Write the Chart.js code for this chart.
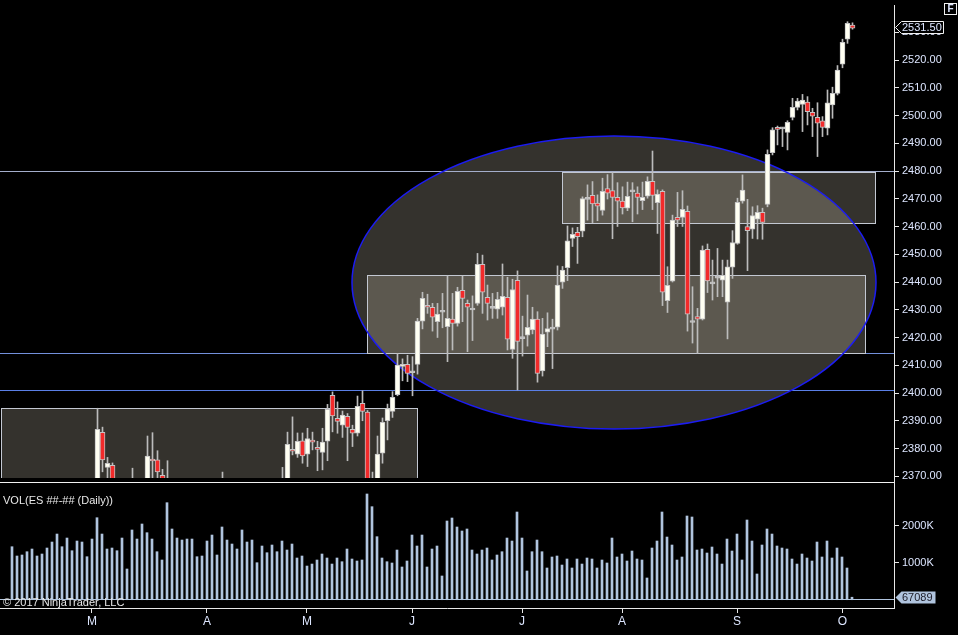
<!DOCTYPE html>
<html>
<head>
<meta charset="utf-8">
<script src="https://cdn.jsdelivr.net/npm/chart.js@4.4.1/dist/chart.umd.min.js"></script>
<style>
  html, body { margin: 0; padding: 0; background: #000; overflow: hidden; }
  #wrap { position: relative; width: 958px; height: 635px; }
  canvas { position: absolute; left: 0; }
  #priceChart { top: 0; }
  #volChart { top: 482px; }
</style>
</head>
<body>
<div id="wrap">
  <canvas id="priceChart" width="958" height="482"></canvas>
  <canvas id="volChart" width="958" height="153"></canvas>
</div>
<script>
// ES ##-## daily bars, Feb 3 - Oct 4 2017 (one entry per session)
const opens = [
  2283, 2290, 2286, 2286, 2288, 2301, 2310, 2321, 2331, 2343,
  2340, 2346, 2359, 2355, 2356, 2360, 2363, 2358, 2385.8, 2373.2,
  2373.9, 2366, 2360, 2355, 2358, 2364, 2365, 2358, 2376, 2375.9,
  2370.3, 2367, 2336, 2340, 2338, 2330, 2335, 2351, 2353, 2359,
  2355, 2350, 2352, 2345, 2350, 2348, 2350, 2346, 2337, 2322,
  2341, 2336, 2331, 2349, 2360, 2366, 2379.7, 2378.0, 2382.8, 2378.0,
  2383.0, 2380.4, 2378.6, 2382.6, 2399.2, 2390.9, 2388.4, 2391.6, 2386.9, 2385.5,
  2396.3, 2393.1, 2353, 2363, 2378.3, 2390.0, 2393.4, 2399.4, 2409.6, 2410.3,
  2407.3, 2410.3, 2425.9, 2431.6, 2430.9, 2425.7, 2429.1, 2423.9, 2426.6, 2425.1,
  2437.0, 2432.3, 2429.9, 2432.3, 2446.4, 2434.5, 2430.5, 2430.2, 2430.9, 2434.5,
  2415.7, 2440.6, 2419.6, 2420.8, 2422.7, 2426.6, 2408.0, 2421.9, 2423.0, 2423.7,
  2439.9, 2445.2, 2455.7, 2457.9, 2458.3, 2469.8, 2471.2, 2468.4, 2465.8, 2473.7,
  2472.9, 2470.5, 2469.2, 2466.6, 2472.5, 2472.0, 2469.3, 2470.9, 2476.3, 2468.6,
  2472.7, 2433.3, 2440.3, 2463.3, 2463.3, 2465.5, 2425.4, 2427.5, 2426.6, 2451.8,
  2439.3, 2441.4, 2440.7, 2432.7, 2445.3, 2453.9, 2469.1, 2460.0, 2459.0, 2462.6,
  2465.1, 2468.0, 2486.6, 2495.7, 2495.2, 2493.9, 2499.3, 2502.9, 2504.0, 2504.8,
  2501.1, 2499.3, 2498.1, 2495.4, 2503.8, 2508.0, 2518.5, 2527.5, 2532.6
];
const highs = [
  2292, 2292, 2293, 2290, 2304, 2312, 2324, 2332, 2345, 2347,
  2346, 2362, 2361, 2364, 2362, 2366, 2366, 2394.5, 2387.7, 2376.8,
  2374.8, 2368, 2365, 2362, 2372.9, 2367, 2366, 2384.5, 2385.7, 2379.2,
  2372.5, 2375.6, 2342, 2350, 2351, 2340, 2356, 2357, 2362, 2362,
  2357, 2355, 2371.5, 2356, 2356, 2359, 2352, 2349, 2342, 2343,
  2342, 2344, 2352, 2350, 2373.2, 2385.9, 2391.4, 2385.6, 2385.6, 2387.3,
  2385.9, 2382.6, 2387.3, 2395.9, 2400.4, 2396.8, 2393.5, 2392.6, 2388.4, 2398.9,
  2400.8, 2393.7, 2371.5, 2384.5, 2391.0, 2396.0, 2400.5, 2414.3, 2412.3, 2413.6,
  2413.1, 2426.9, 2436.3, 2435.6, 2432.3, 2432.3, 2435.9, 2442.2, 2435.9, 2438.1,
  2442.2, 2433.5, 2435.0, 2450.3, 2449.7, 2438.9, 2435.9, 2436.3, 2446.5, 2441.7,
  2441.0, 2444.0, 2427.7, 2435.3, 2430.9, 2429.3, 2426.9, 2428.9, 2426.6, 2445.8,
  2445.6, 2460.2, 2459.5, 2459.7, 2470.7, 2475.0, 2476.2, 2471.4, 2477.4, 2478.7,
  2479.4, 2475.8, 2474.3, 2476.0, 2475.8, 2474.3, 2476.0, 2477.9, 2487.2, 2473.2,
  2473.2, 2445.5, 2464.1, 2472.3, 2472.9, 2467.4, 2438.3, 2430.5, 2453.0, 2453.7,
  2447.9, 2452.1, 2447.9, 2447.9, 2458.5, 2470.2, 2478.6, 2469.8, 2467.1, 2467.5,
  2466.6, 2487.6, 2495.6, 2496.2, 2495.7, 2498.1, 2506.2, 2506.2, 2507.6, 2506.8,
  2502.6, 2504.6, 2499.6, 2509.2, 2510.2, 2518.0, 2527.5, 2533.8, 2533.4
];
const lows = [
  2280, 2281, 2283, 2280, 2286, 2299, 2309, 2315, 2326, 2333,
  2334, 2345, 2353, 2351, 2345, 2353, 2352, 2356, 2371.6, 2366,
  2361, 2358, 2353, 2350, 2355, 2360, 2352, 2355, 2369, 2369.5,
  2362, 2334, 2325, 2333, 2328, 2314, 2330, 2347, 2350, 2352,
  2342, 2346, 2342, 2341, 2339, 2343, 2330, 2335, 2320, 2320,
  2328, 2326, 2329, 2337, 2357, 2364, 2377.7, 2376.8, 2374.7, 2373.5,
  2379.5, 2372.0, 2372.3, 2375.6, 2386.0, 2385.5, 2384.0, 2375.6, 2380.7, 2384.5,
  2390.0, 2349, 2341, 2361, 2374.7, 2383.1, 2391.2, 2399.0, 2404.4, 2404.1,
  2399.0, 2406.8, 2423.1, 2428.7, 2422.3, 2420.0, 2423.5, 2411.3, 2415.5, 2424.1,
  2425.7, 2414.9, 2418.9, 2431.6, 2428.7, 2426.3, 2426.9, 2426.9, 2428.1, 2415.5,
  2412.5, 2401.1, 2413.3, 2416.9, 2421.3, 2403.9, 2406.1, 2416.7, 2408.8, 2422.7,
  2437.7, 2440.5, 2452.8, 2446.7, 2456.3, 2462.3, 2461.4, 2462.1, 2464.1, 2469.9,
  2455.6, 2460.0, 2464.5, 2465.7, 2461.7, 2464.5, 2466.1, 2470.2, 2466.1, 2457.5,
  2431.5, 2429.0, 2440.0, 2460.0, 2460.0, 2422.3, 2418.0, 2414.3, 2426.3, 2436.2,
  2433.5, 2434.7, 2434.7, 2419.5, 2441.3, 2453.6, 2468.4, 2444.1, 2455.7, 2455.5,
  2455.4, 2467.1, 2485.8, 2489.4, 2488.8, 2487.6, 2498.4, 2502.0, 2494.2, 2496.6,
  2492.4, 2485.2, 2492.4, 2493.0, 2499.0, 2507.4, 2517.2, 2526.0, 2531.1
];
const closes = [
  2290, 2286, 2287, 2288, 2301, 2310, 2322, 2331, 2343, 2341,
  2345, 2359, 2356, 2357, 2361, 2363, 2357, 2386.9, 2375.9, 2374.7,
  2366, 2360, 2355, 2357, 2364, 2365, 2358, 2377.3, 2375.5, 2371.6,
  2366, 2336, 2340, 2338, 2336, 2335, 2351, 2353, 2360, 2355,
  2351, 2352, 2345, 2350, 2348, 2350, 2346, 2337, 2321, 2342,
  2335, 2331, 2349, 2342, 2367, 2381.5, 2379.0, 2382.6, 2377.3, 2383.6,
  2382.3, 2379.7, 2382.3, 2394.1, 2391.7, 2389.8, 2392.0, 2387.6, 2385.5, 2395.2,
  2393.4, 2352, 2362, 2378.0, 2389.4, 2394.4, 2398.4, 2410.1, 2410.3, 2407.1,
  2407.3, 2425.9, 2434.1, 2430.9, 2427.3, 2428.4, 2429.1, 2426.9, 2425.1, 2436.6,
  2434.1, 2430.9, 2429.9, 2446.4, 2436.3, 2432.3, 2430.5, 2433.8, 2434.8, 2419.4,
  2437.3, 2418.6, 2419.6, 2423.7, 2426.6, 2407.1, 2421.2, 2423.2, 2423.0, 2438.9,
  2444.3, 2454.8, 2457.2, 2456.3, 2470.1, 2469.8, 2468.1, 2467.3, 2472.7, 2472.0,
  2470.5, 2469.1, 2466.7, 2470.9, 2472.5, 2470.5, 2470.5, 2476.3, 2471.2, 2471.7,
  2436.3, 2438.8, 2462.3, 2462.3, 2466.2, 2428.4, 2425.4, 2426.6, 2451.5, 2440.4,
  2439.3, 2441.4, 2442.4, 2445.5, 2454.2, 2468.7, 2473.1, 2458.5, 2463.9, 2465.1,
  2461.5, 2486.0, 2494.8, 2495.0, 2495.2, 2497.5, 2502.9, 2505.2, 2505.6, 2501.4,
  2499.8, 2497.2, 2495.7, 2504.6, 2508.0, 2516.4, 2526.4, 2533.2, 2531.5
];
// volume in thousands of contracts
const volumeK = [
  1432, 1181, 1208, 1297, 1370, 1181, 1235, 1397, 1559, 1775,
  1432, 1667, 1324, 1586, 1559, 1162, 1640, 2216, 1775, 1370,
  1397, 1324, 1667, 830, 1884, 1640, 2046, 1811, 1640, 1297,
  1073, 2622, 1911, 1667, 1613, 1640, 1640, 1162, 1181, 1586,
  1748, 1208, 1965, 1613, 1505, 1370, 1884, 1559, 1613, 1000,
  1451, 1270, 1478, 1297, 1586, 1343, 1505, 1127, 1181, 910,
  964, 1073, 1235, 1127, 964, 1127, 1027, 1370, 1100, 1046,
  1073, 2857, 2514, 1703, 1127, 1027, 992, 1343, 884, 1046,
  1748, 1451, 1748, 884, 1370, 1451, 641, 2127, 2208, 1965,
  1857, 1911, 1343, 1235, 1343, 1397, 1073, 1208, 1297, 1667,
  1586, 2370, 1667, 776, 1297, 1613, 1297, 857, 1154, 1181,
  937, 1100, 857, 1100, 964, 1127, 1100, 857, 1073, 992,
  1667, 1154, 1235, 1046, 1316, 1100, 1073, 587, 1397, 1586,
  2370, 1694, 1478, 1073, 1154, 2262, 2235, 1343, 1370, 1262,
  1424, 1235, 964, 1640, 1316, 1775, 1073, 2154, 1586, 695,
  1478, 1911, 1775, 1451, 1397, 1370, 1100, 964, 1235, 1127,
  1046, 1559, 1154, 1586, 1127, 1397, 1154, 857, 67.089
];

const priceTicks = [2370, 2380, 2390, 2400, 2410, 2420, 2430, 2440, 2450,
  2460, 2470, 2480, 2490, 2500, 2510, 2520, 2530];
const volumeTicks = [1000, 2000];
const monthTicks = [16, 39, 59, 80, 102, 122, 145, 166.1];
const monthLabels = ["M", "A", "M", "J", "J", "A", "S", "O"];

// drawing objects, in bar index / price units
const zoneEllipse = { x: 120.3, y: 2439.8, rx: 52.4, ry: 52.8 };
const zoneBoxes = [
  { x0: -2.3, x1: 80.96, top: 2394.5, bottom: 2350 },
  { x0: 70.96, x1: 170.5, top: 2442.5, bottom: 2414.3 },
  { x0: 109.96, x1: 172.44, top: 2479.6, bottom: 2461.2 }
];
const levelLines = [
  { price: 2480.0, color: "#a4aecb" },
  { price: 2414.3, color: "#7390dc" },
  { price: 2401.0, color: "#5a7fe6" }
];

const FONT = "'Liberation Sans', Arial, sans-serif";
const AXIS_TEXT = "#dde6ff";
const AXIS_LINE = "#e8e8e8";
const ZONE_FILL = "rgba(226, 217, 196, 0.23)";
const VOL_COLOR = "#b0c4de";

const crisp = v => Math.round(v) + 0.5;

const drawingsPlugin = {
  id: "drawings",
  beforeDatasetsDraw(chart) {
    const { ctx, chartArea: a, scales: { x, y } } = chart;
    ctx.save();
    ctx.beginPath();
    ctx.rect(a.left, a.top, a.right - a.left, a.bottom - a.top);
    ctx.clip();

    const cx = x.getPixelForValue(zoneEllipse.x);
    const cy = y.getPixelForValue(zoneEllipse.y);
    const rx = x.getPixelForValue(zoneEllipse.x + zoneEllipse.rx) - cx;
    const ry = cy - y.getPixelForValue(zoneEllipse.y + zoneEllipse.ry);

    ctx.fillStyle = ZONE_FILL;
    ctx.beginPath();
    ctx.ellipse(cx, cy, rx, ry, 0, 0, Math.PI * 2);
    ctx.fill();

    const rects = zoneBoxes.map(b => {
      const l = crisp(x.getPixelForValue(b.x0));
      const r = crisp(x.getPixelForValue(b.x1));
      const t = crisp(y.getPixelForValue(b.top));
      const btm = crisp(y.getPixelForValue(b.bottom));
      return { l, r, t, btm };
    });
    rects.forEach(rc => ctx.fillRect(rc.l, rc.t, rc.r - rc.l, rc.btm - rc.t));

    ctx.lineWidth = 1;
    levelLines.forEach(ln => {
      const py = crisp(y.getPixelForValue(ln.price));
      ctx.strokeStyle = ln.color;
      ctx.beginPath();
      ctx.moveTo(a.left, py);
      ctx.lineTo(a.right, py);
      ctx.stroke();
    });

    ctx.strokeStyle = "#c3c8d2";
    rects.forEach(rc => ctx.strokeRect(rc.l, rc.t, rc.r - rc.l, rc.btm - rc.t));

    ctx.strokeStyle = "#1c1cf2";
    ctx.lineWidth = 1.5;
    ctx.beginPath();
    ctx.ellipse(cx, cy, rx, ry, 0, 0, Math.PI * 2);
    ctx.stroke();
    ctx.restore();
  },
  afterDraw(chart) {
    const { ctx, chartArea: a, scales: { y } } = chart;
    ctx.save();
    // axis line runs on to the panel separator
    ctx.fillStyle = AXIS_LINE;
    ctx.fillRect(Math.round(a.right), a.bottom, 1, chart.height - a.bottom);

    // last price marker
    const last = closes[closes.length - 1];
    const py = Math.round(y.getPixelForValue(last)) - 0.5;
    const tip = a.right + 1.5;
    ctx.beginPath();
    ctx.moveTo(tip, py);
    ctx.lineTo(tip + 6, py - 6);
    ctx.lineTo(943.5, py - 6);
    ctx.lineTo(943.5, py + 6);
    ctx.lineTo(tip + 6, py + 6);
    ctx.closePath();
    ctx.fillStyle = "#000";
    ctx.fill();
    ctx.strokeStyle = "#f2f2f2";
    ctx.lineWidth = 1;
    ctx.stroke();
    ctx.fillStyle = AXIS_TEXT;
    ctx.font = "11px " + FONT;
    ctx.textBaseline = "middle";
    ctx.textAlign = "left";
    ctx.fillText(last.toFixed(2), a.right + 8, py + 0.5);

    // "F" button
    ctx.fillStyle = "#000";
    ctx.fillRect(944.5, 3.5, 12, 11);
    ctx.strokeStyle = "#f2f2f2";
    ctx.strokeRect(944.5, 3.5, 12, 11);
    ctx.fillStyle = AXIS_TEXT;
    ctx.font = "bold 10px " + FONT;
    ctx.textAlign = "center";
    ctx.fillText("F", 950.5, 9.5);
    ctx.restore();
  }
};

const volumePlugin = {
  id: "volumeDecor",
  beforeDatasetsDraw(chart) {
    const { ctx, chartArea: a, scales: { y } } = chart;
    ctx.save();
    ctx.fillStyle = VOL_COLOR;
    ctx.fillRect(a.left, Math.floor(y.getPixelForValue(0)), a.right - a.left, 1);
    ctx.restore();
  },
  afterDraw(chart) {
    const { ctx, chartArea: a, scales: { y } } = chart;
    ctx.save();
    ctx.fillStyle = "#f2f2f2";
    ctx.fillRect(0, 0, Math.round(a.right), 1);
    ctx.fillStyle = AXIS_LINE;
    ctx.fillRect(Math.round(a.right), 0, 1, a.top);

    ctx.font = "11px " + FONT;
    ctx.textBaseline = "middle";
    ctx.textAlign = "left";
    ctx.fillStyle = "#e8e8e8";
    ctx.fillText("VOL(ES ##-## (Daily))", 3, 18.5);
    ctx.fillText("\u00a9 2017 NinjaTrader, LLC", 3, 120.5);

    // last volume marker
    const last = volumeK[volumeK.length - 1];
    const py = Math.round(y.getPixelForValue(last)) + 0.5;
    const tip = a.right + 1.5;
    ctx.beginPath();
    ctx.moveTo(tip, py);
    ctx.lineTo(tip + 6, py - 6);
    ctx.lineTo(935.5, py - 6);
    ctx.lineTo(935.5, py + 6);
    ctx.lineTo(tip + 6, py + 6);
    ctx.closePath();
    ctx.fillStyle = VOL_COLOR;
    ctx.fill();
    ctx.fillStyle = "#1c1c28";
    ctx.fillText(Math.round(last * 1000).toString(), a.right + 8, py);
    ctx.restore();
  }
};

// fixed axis width, and no extra room reserved for the end labels
const noLabelPadding = scale => {
  scale.paddingTop = 0;
  scale.paddingBottom = 0;
  scale.paddingLeft = 0;
  scale.paddingRight = 0;
};

const rightAxis = (min, max, ticks, fmt) => ({
  type: "linear",
  position: "right",
  min: min,
  max: max,
  afterFit: scale => { scale.width = 64; noLabelPadding(scale); },
  afterBuildTicks: scale => { scale.ticks = ticks.map(v => ({ value: v })); },
  grid: { drawOnChartArea: false, tickLength: 5, color: AXIS_LINE },
  border: { display: true, color: AXIS_LINE },
  ticks: {
    color: AXIS_TEXT,
    font: { family: FONT, size: 11 },
    padding: 3,
    autoSkip: false,
    callback: fmt
  }
});

Chart.defaults.animation = false;
Chart.defaults.responsive = false;
Chart.defaults.devicePixelRatio = 1;
Chart.defaults.events = [];
Chart.defaults.plugins.legend.display = false;
Chart.defaults.plugins.tooltip.enabled = false;

new Chart(document.getElementById("priceChart"), {
  type: "bar",
  data: {
    datasets: [
      {
        label: "Range",
        data: highs.map((h, i) => ({ x: i, y: [lows[i], h] })),
        backgroundColor: "#bcbcbc",
        barThickness: 1,
        grouped: false,
        order: 2
      },
      {
        label: "Body",
        data: opens.map((o, i) => ({ x: i, y: [Math.min(o, closes[i]), Math.max(o, closes[i])] })),
        backgroundColor: ctx => {
          const o = opens[ctx.dataIndex];
          const c = closes[ctx.dataIndex];
          if (c > o) return "#fffff2";
          if (c < o) return "#f22a2a";
          return "#c4c4c4";
        },
        borderColor: "#c4c4c4",
        borderWidth: 1,
        borderSkipped: false,
        barThickness: 5,
        minBarLength: 2,
        grouped: false,
        order: 1
      }
    ]
  },
  options: {
    layout: { padding: { top: 5, bottom: 4, left: 0, right: 0 } },
    scales: {
      x: { type: "linear", min: -2.5, max: 176.3, display: false, offset: false, grid: { offset: false } },
      y: rightAxis(2369.37, 2539.82, priceTicks, v => v.toFixed(2))
    }
  },
  plugins: [drawingsPlugin]
});

new Chart(document.getElementById("volChart"), {
  type: "bar",
  data: {
    datasets: [
      {
        label: "Volume",
        data: volumeK.map((v, i) => ({ x: i, y: v })),
        backgroundColor: VOL_COLOR,
        barThickness: 2,
        grouped: false
      }
    ]
  },
  options: {
    layout: { padding: { top: 2, bottom: 0, left: 0, right: 0 } },
    scales: {
      x: {
        type: "linear",
        min: -2.4,
        max: 176.4,
        offset: false,
        afterFit: scale => { scale.height = 27; noLabelPadding(scale); },
        afterBuildTicks: scale => { scale.ticks = monthTicks.map(v => ({ value: v })); },
        grid: { drawOnChartArea: false, offset: false, tickLength: 5, color: AXIS_LINE },
        border: { display: true, color: AXIS_LINE },
        ticks: {
          color: AXIS_TEXT,
          font: { family: FONT, size: 12 },
          padding: 1,
          autoSkip: false,
          maxRotation: 0,
          callback: (v, i) => monthLabels[i]
        }
      },
      y: rightAxis(-224, 3127, volumeTicks, v => v + "K")
    }
  },
  plugins: [volumePlugin]
});
</script>
</body>
</html>
